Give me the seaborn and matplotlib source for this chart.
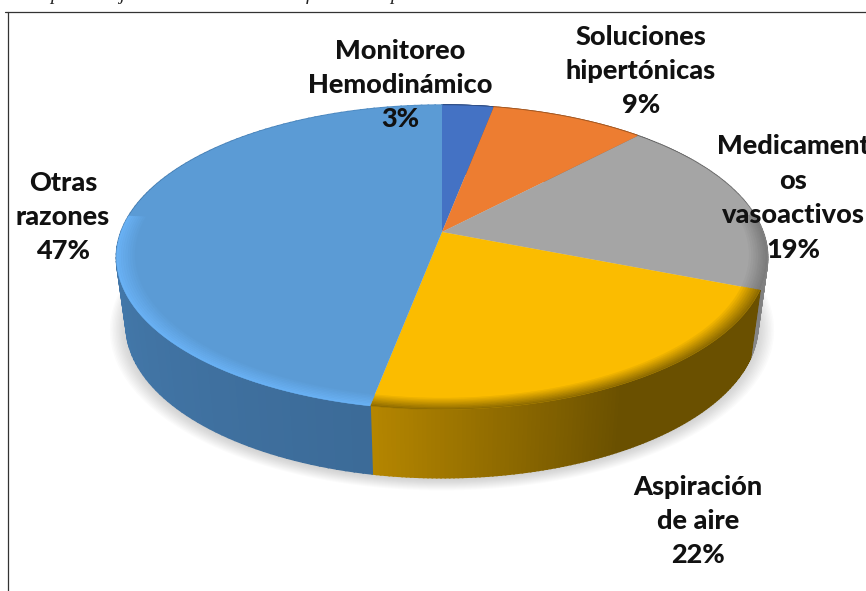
import numpy as np
import matplotlib
matplotlib.use("Agg")
import matplotlib.pyplot as plt
from matplotlib.transforms import Transform
from matplotlib.colors import to_rgb
import seaborn as sns

categories = ["Monitoreo\nHemodinámico", "Soluciones\nhipertónicas", "Medicament\nos\nvasoactivos", "Aspiración\nde aire", "Otras\nrazones"]
values = [3, 9, 19, 22, 47]
colors = ["#4472C4", "#ED7D31", "#A5A5A5", "#FBBC00", "#5B9BD5"]
label_centers = [(400, 85), (641, 71), (793, 198), (698, 521), (63, 217)]
caption_marks = [("p", 55), ("j", 122), ("f", 308), ("p", 395)]

# per-slice side shading: (start colour, end colour, share of the slice used by the ramp)
side_ramps = [("#2F4F88", "#2F4F88", 1.0), ("#A45720", "#A45720", 1.0), ("#8A8A8A", "#5E5E5E", 1.0),
              ("#B58600", "#6A5000", 0.5), ("#4F8DC6", "#3C6B98", 1.0)]
rim_colors = ["#3A62AA", "#C96A28", "#7C7C7C", "#8F6C00", "#69B1F4"]

sns.set_theme(style="white")
plt.rcParams["font.family"] = ["Lato", "DejaVu Sans"]
W, H = 866, 591
CX, CY, A, R, K = 442.0, 232.0, 148.0, 321.0, 0.167
DEPTH, BOTTOM_SCALE = 68.0, 0.97


def project(u, v, scale=1.0, shift=0.0):
    w = 1 + K * v
    return CX + scale * R * u / w, CY + shift - A * v / w


class DiscProjection(Transform):
    input_dims = output_dims = 2

    def transform_non_affine(self, values):
        values = np.asarray(values)
        x, y = project(values[:, 0], values[:, 1])
        return np.column_stack([x, y])


fig = plt.figure(figsize=(W / 100, H / 100), dpi=100, facecolor="white")
ax = fig.add_axes([0, 0, 1, 1])
wedges, _ = ax.pie(values, colors=sns.color_palette(colors), startangle=90, counterclock=False, radius=1)
ax.set_aspect("auto")
ax.set_xlim(0, W)
ax.set_ylim(H, 0)
ax.axis("off")

proj = DiscProjection() + ax.transData
for wedge in wedges:
    wedge.set_transform(proj)
    wedge.set_zorder(10)
    wedge.set_edgecolor("none")
    wedge.set_linewidth(0)

# soft shadow under the base
t = np.linspace(0, 2 * np.pi, 240)
for grow in np.linspace(1.05, 1.0, 12):
    sx, sy = project(np.cos(t) * grow, np.sin(t) * grow, BOTTOM_SCALE, DEPTH + 2)
    ax.fill(sx, sy, color="#808080", alpha=0.03, lw=0, zorder=1)

# extruded side, shaded along each slice
for wedge, (c0, c1, span) in zip(wedges, side_ramps):
    angles = np.linspace(wedge.theta1, wedge.theta2, 120)
    c0, c1 = np.array(to_rgb(c0)), np.array(to_rgb(c1))
    for i in range(len(angles) - 1):
        a = np.radians(angles[i:i + 2])
        u, v = np.cos(a), np.sin(a)
        x0, y0 = project(u, v)
        x1, y1 = project(u, v, BOTTOM_SCALE, DEPTH)
        f = min(i / (len(angles) - 2) / span, 1)
        col = c0 + (c1 - c0) * f
        ax.fill(np.r_[x0, x1[::-1]], np.r_[y0, y1[::-1]], color=col, lw=1.2, ec=col, zorder=5)

# bevelled rim along the front of the top face
for wedge, rim, base in zip(wedges, rim_colors, colors):
    a = np.radians(np.linspace(wedge.theta1, wedge.theta2, 90))
    a = a[np.sin(a) < 0.12]
    if a.size < 2:
        continue
    steps = np.linspace(0.945, 1.0, 9)
    for i in range(len(steps) - 1):
        r0, r1 = steps[i], steps[i + 1]
        x0, y0 = project(r0 * np.cos(a), r0 * np.sin(a))
        x1, y1 = project(r1 * np.cos(a), r1 * np.sin(a))
        f = (i + 1) / (len(steps) - 1)
        col = np.array(to_rgb(base)) * (1 - f) + np.array(to_rgb(rim)) * f
        ax.fill(np.r_[x0, x1[::-1]], np.r_[y0, y1[::-1]], color=col, lw=0.3, ec=col, zorder=11)

# chart frame (left and top edges are the only ones in view)
ax.plot([8, 8], [12, H], color="#333333", lw=0.9, zorder=20)
ax.plot([5, W], [12, 12], color="#333333", lw=0.9, zorder=20)

for cat, val, (x, y) in zip(categories, values, label_centers):
    ax.text(x, y, f"{cat}\n{val}%", ha="center", va="center", ma="center", fontsize=19.5,
            fontweight="black", color="#111111", linespacing=1.52, zorder=30, clip_on=False)

# only the descenders of the caption above the frame are inside the crop
for ch, x in caption_marks:
    ax.text(x, 0, ch, family="Liberation Serif", style="italic", fontsize=14, color="#222222",
            ha="center", va="baseline", zorder=30)

fig.savefig("out.png", dpi=100)
